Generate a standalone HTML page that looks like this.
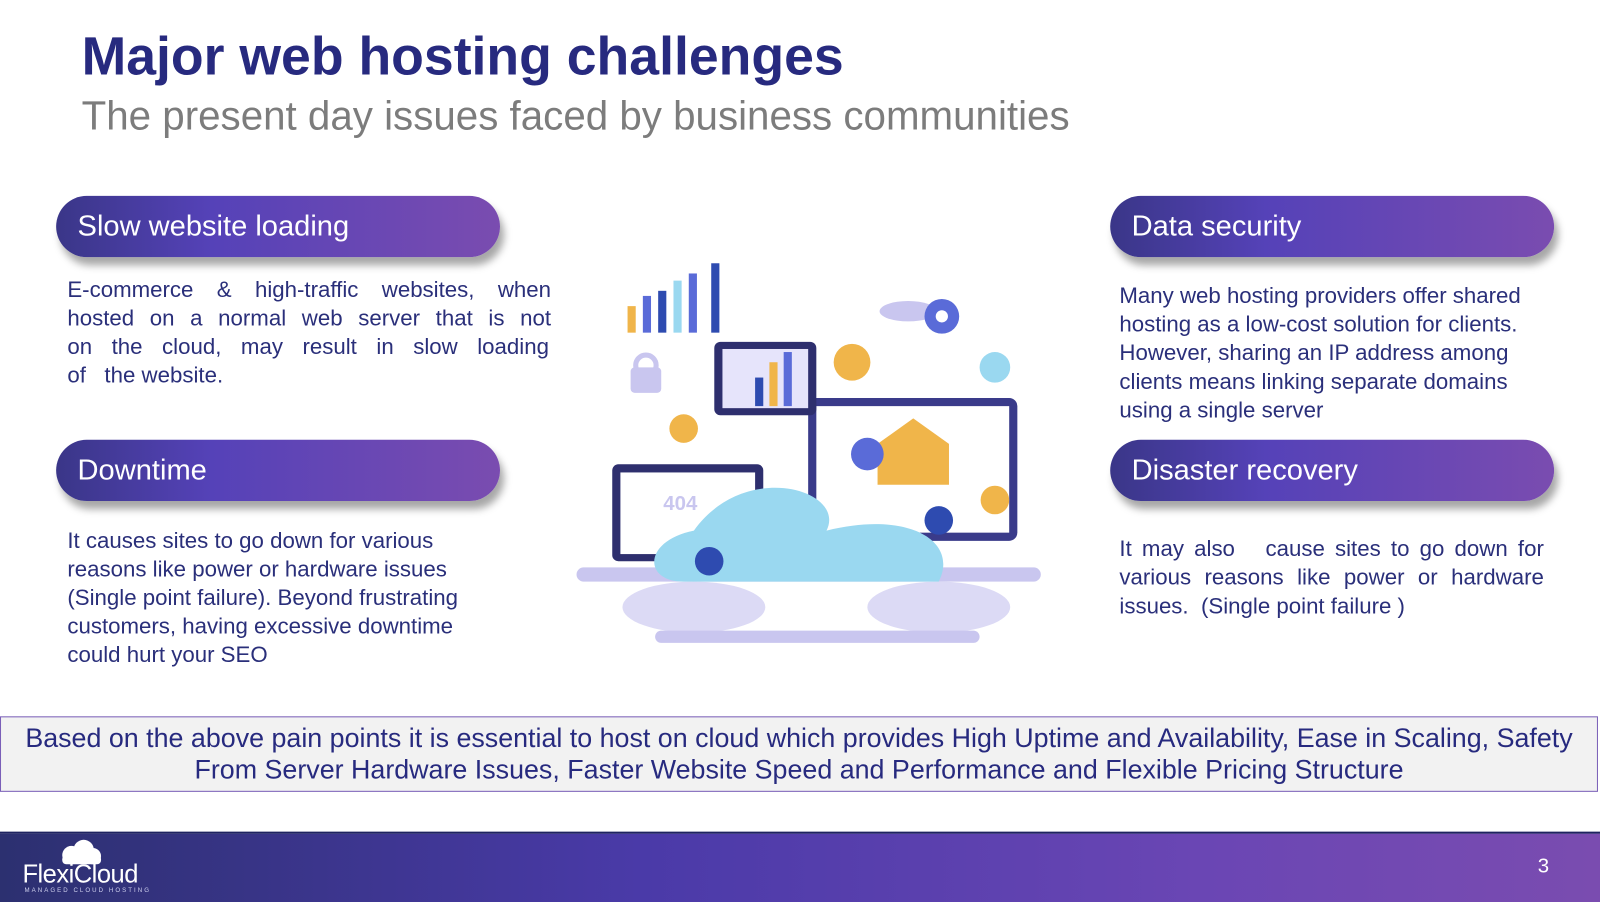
<!DOCTYPE html>
<html><head><meta charset="utf-8"><style>
html,body{margin:0;padding:0;background:#fff;width:1600px;height:900px;overflow:hidden}
#w{position:absolute;left:0;top:0;width:1568px;height:882px;transform:scale(1.02041);transform-origin:0 0;font-family:"Liberation Sans",sans-serif}
.a{position:absolute}
.pill{position:absolute;width:435px;height:60px;border-radius:30px;background:linear-gradient(90deg,#3a3688 0%,#5542b8 35%,#7a4cb0 100%);box-shadow:4px 8px 8px rgba(0,0,0,.35);color:#fff;font-size:28.5px;line-height:60px;padding-left:21px;box-sizing:border-box}
.t{position:absolute;color:#2a2f7a;font-size:21.8px;line-height:28px}
.t div{white-space:nowrap}
.jj div{text-align:justify;text-align-last:justify;white-space:normal}
.jj div.l{text-align-last:left}
</style></head><body><div id="w">
<div class="a" style="left:80px;top:25px;font-size:52.5px;font-weight:bold;color:#272a7f">Major web hosting challenges</div>
<div class="a" style="left:80px;top:92px;font-size:39.5px;color:#7c7c7c">The present day issues faced by business communities</div>

<div class="pill" style="left:55px;top:192px">Slow website loading</div>
<div class="pill" style="left:55px;top:431px">Downtime</div>
<div class="pill" style="left:1088px;top:192px">Data security</div>
<div class="pill" style="left:1088px;top:431px">Disaster recovery</div>

<div class="t jj" style="left:66px;top:270px;width:474px"><div>E-commerce &amp; high-traffic websites, when</div><div>hosted on a normal web server that is not</div><div style="width:472px">on the cloud, may result in slow loading</div><div class="l">of &nbsp;&nbsp;the website.</div></div>
<div class="t" style="left:66px;top:516px"><div>It causes sites to go down for various</div><div>reasons like power or hardware issues</div><div>(Single point failure). Beyond frustrating</div><div>customers, having excessive downtime</div><div>could hurt your SEO</div></div>
<div class="t" style="left:1097px;top:276px"><div>Many web hosting providers offer shared</div><div>hosting as a low-cost solution for clients.</div><div>However, sharing an IP address among</div><div>clients means linking separate domains</div><div>using a single server</div></div>
<div class="t jj" style="left:1097px;top:524px;width:416px"><div>It may also &nbsp;&nbsp;cause sites to go down for</div><div>various reasons like power or hardware</div><div class="l">issues. &nbsp;(Single point failure )</div></div>

<svg class="a" style="left:560px;top:250px" width="470" height="390" viewBox="0 0 470 390">
<rect x="5" y="306" width="455" height="14" rx="7" fill="#c9c6ef"/>
<ellipse cx="120" cy="345" rx="70" ry="25" fill="#dcdaf5"/>
<ellipse cx="360" cy="345" rx="70" ry="25" fill="#dcdaf5"/>
<rect x="82" y="368" width="318" height="12" rx="6" fill="#c9c6ef"/>
<rect x="232" y="140" width="205" height="140" rx="8" fill="#3a3b8a"/>
<rect x="240" y="148" width="189" height="124" fill="#fff"/>
<polygon points="300,185 335,160 370,185 370,225 300,225" fill="#f0b54a"/>
<rect x="140" y="85" width="100" height="72" rx="6" fill="#2e2f6e"/>
<rect x="148" y="92" width="84" height="58" fill="#e6e4fb"/>
<rect x="180" y="120" width="8" height="28" fill="#2e4bb0"/><rect x="194" y="105" width="8" height="43" fill="#f0b54a"/><rect x="208" y="95" width="8" height="53" fill="#5a6bd8"/>
<rect x="40" y="205" width="148" height="95" rx="6" fill="#2e2f6e"/>
<rect x="48" y="213" width="132" height="80" fill="#fff"/>
<text x="90" y="250" font-family="Liberation Sans" font-size="20" font-weight="bold" fill="#c9c6ef">404</text>
<path d="M120 270 C170 200 270 230 250 270 C330 250 380 280 360 320 L110 320 C70 320 70 280 120 270Z" fill="#9ad8f0"/>
<rect x="55" y="50" width="8" height="26" fill="#f0b54a"/><rect x="70" y="40" width="8" height="36" fill="#5a6bd8"/><rect x="85" y="35" width="8" height="41" fill="#2e4bb0"/><rect x="100" y="25" width="8" height="51" fill="#9ad8f0"/><rect x="115" y="18" width="8" height="58" fill="#5a6bd8"/><rect x="137" y="8" width="8" height="68" fill="#2e4bb0"/>
<rect x="58" y="110" width="30" height="25" rx="4" fill="#c9c6ef"/><circle cx="73" cy="108" r="10" fill="none" stroke="#c9c6ef" stroke-width="5"/>
<ellipse cx="330" cy="55" rx="28" ry="10" fill="#c9c6ef"/>
<circle cx="363" cy="60" r="17" fill="#5a6bd8"/><circle cx="363" cy="60" r="6" fill="#fff"/>
<circle cx="275" cy="105" r="18" fill="#f0b54a"/><circle cx="415" cy="110" r="15" fill="#9ad8f0"/>
<circle cx="110" cy="170" r="14" fill="#f0b54a"/><circle cx="360" cy="260" r="14" fill="#2e4bb0"/><circle cx="415" cy="240" r="14" fill="#f0b54a"/>
<circle cx="135" cy="300" r="14" fill="#2e4bb0"/><circle cx="290" cy="195" r="16" fill="#5a6bd8"/>
</svg>

<div class="a" style="left:0;top:702px;width:1566px;height:74px;border:1px solid #7a5fb8;background:#f2f2f2;color:#272a7f;font-size:26.3px;line-height:31px;text-align:center;padding-top:5px;box-sizing:border-box;white-space:nowrap">Based on the above pain points it is essential to host on cloud which provides High Uptime and Availability, Ease in Scaling, Safety<br>From Server Hardware Issues, Faster Website Speed and Performance and Flexible Pricing Structure</div>

<div class="a" style="left:0;top:815px;width:1568px;height:67px;background:linear-gradient(90deg,#2c3070 0%,#4a3aa8 40%,#6a46b4 75%,#7a4cb0 100%);border-top:2px solid #1e2360"></div>
<svg class="a" style="left:56px;top:822px" width="46" height="26"><circle cx="14" cy="16" r="9" fill="#fff"/><circle cx="26" cy="11" r="10" fill="#fff"/><circle cx="35" cy="17" r="8" fill="#fff"/><rect x="5" y="16" width="38" height="9" rx="4" fill="#fff"/></svg>
<div class="a" style="left:22px;top:843px;color:#fff;font-size:25px;letter-spacing:-0.5px">Flexi<span style="font-weight:300">Cloud</span></div>
<div class="a" style="left:24px;top:870px;color:#cfd0ee;font-size:6px;letter-spacing:2px">MANAGED CLOUD HOSTING</div>
<div class="a" style="left:1507px;top:838px;color:#fff;font-size:20px">3</div>
</div></body></html>
